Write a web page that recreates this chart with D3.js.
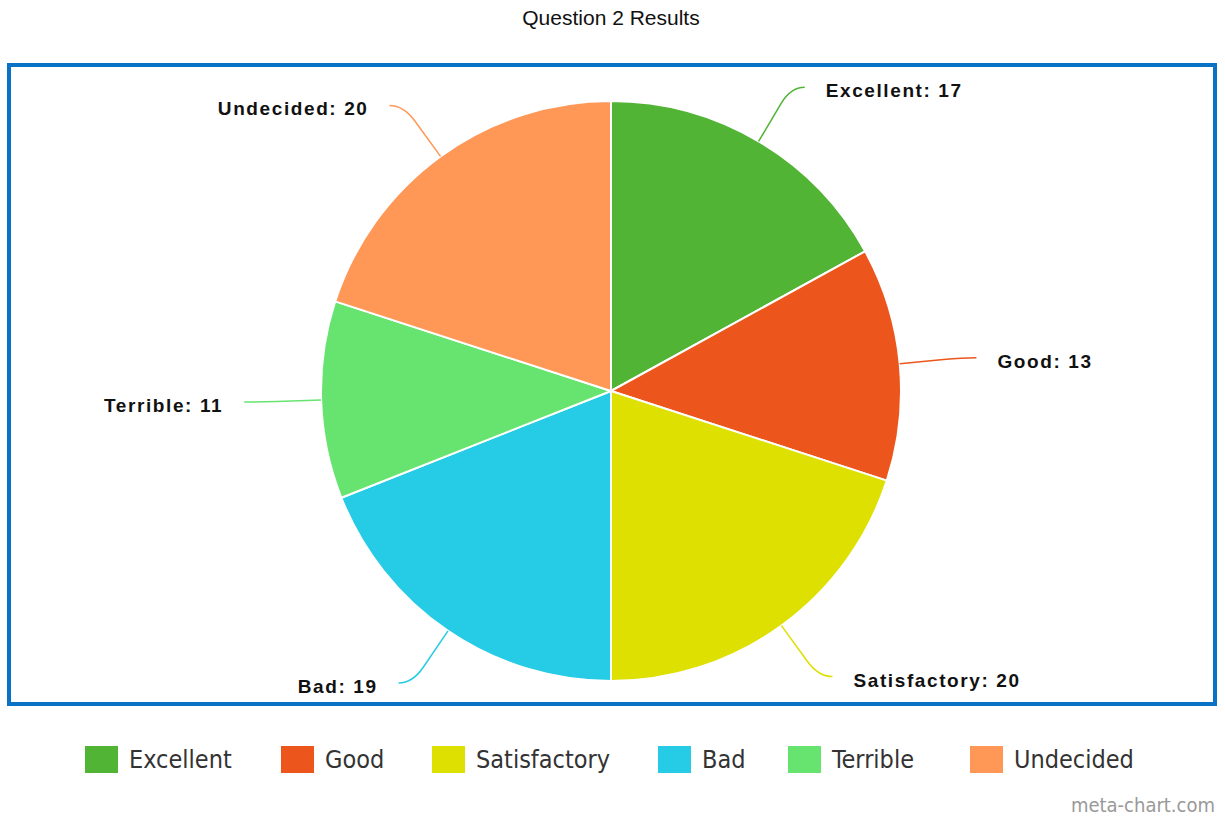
<!DOCTYPE html>
<html>
<head>
<meta charset="utf-8">
<script src="https://cdn.jsdelivr.net/npm/d3@7"></script>
<style>
  body { margin: 0; background: #fff; }
  #chart-container { width: 1225px; height: 816px; }
</style>
</head>
<body>
<div id="chart-container"></div>
<script>

// Chart data.
const categories = ["Excellent", "Good", "Satisfactory", "Bad", "Terrible", "Undecided"];
const values = [17, 13, 20, 19, 11, 20];
const palette = ["#52b435", "#ec561d", "#dde000", "#26cbe6", "#66e46f", "#ff9757"];
const chartTitle = "Question 2 Results";
const watermark = "meta-chart.com";

let fWidth = 1225, fHeight = 816, cx = 611, cy = 391, radius = 290;

let data = categories.map((c, i) => { return { name: c, value: values[i] }; });

// Append svg canvas.
let svg = d3.select("#chart-container").append("svg")
  .attr("width", fWidth)
  .attr("height", fHeight);

// Title.
svg.append("text")
  .attr("x", cx)
  .attr("y", 25)
  .attr("text-anchor", "middle")
  .style("font-family", "'Liberation Sans', Arial, sans-serif")
  .style("font-size", "21px")
  .style("fill", "#111")
  .text(chartTitle);

// Frame.
svg.append("rect")
  .attr("x", 9)
  .attr("y", 65)
  .attr("width", 1206)
  .attr("height", 639)
  .attr("fill", "none")
  .attr("stroke", "#0a72c4")
  .attr("stroke-width", 4);

let color = d3.scaleOrdinal()
  .domain(categories)
  .range(palette);

let pie = d3.pie()
  .value(d => { return d.value; })
  .sort(null);

let arcGen = d3.arc()
  .innerRadius(0)
  .outerRadius(radius);

let arcs = pie(data);

let chartCanvas = svg.append("g")
  .attr("transform", `translate(${ cx } ${ cy })`);

// Slices.
chartCanvas.selectAll(".slice")
  .data(arcs)
  .enter()
  .append("path")
    .classed("slice", true)
    .attr("d", arcGen)
    .attr("fill", d => { return color(d.data.name); })
    .attr("stroke", "#fff")
    .attr("stroke-width", 2)
    .attr("stroke-linejoin", "round");

// Polar helper.
function polar(a, r) {
  return [Math.sin(a) * r, -Math.cos(a) * r];
}

// Leader lines and labels.
arcs.forEach(d => {
  let mid = (d.startAngle + d.endAngle) / 2;
  let side = Math.sin(mid) >= 0 ? 1 : -1;
  let p0 = polar(mid, radius);
  let p1 = polar(mid, radius + 44);
  let c = polar(mid, radius + 63);
  let p2 = [c[0] + side * 14, c[1]];

  chartCanvas.append("path")
    .attr("d", `M${ p0[0] },${ p0[1] } L${ p1[0] },${ p1[1] } Q${ c[0] },${ c[1] } ${ p2[0] },${ p2[1] }`)
    .attr("fill", "none")
    .attr("stroke", color(d.data.name))
    .attr("stroke-width", 1.5);

  chartCanvas.append("text")
    .attr("x", p2[0] + side * 21)
    .attr("y", p2[1] + 10)
    .attr("text-anchor", side > 0 ? "start" : "end")
    .style("font-family", "'Liberation Sans', Arial, sans-serif")
    .style("font-size", "19px")
    .style("font-weight", "bold")
    .style("letter-spacing", "1.6px")
    .style("fill", "#111")
    .text(`${ d.data.name }: ${ d.data.value }`);
});

// Legend.
let legendX = [85, 281, 432, 658, 788, 970];
let legend = svg.append("g").attr("id", "legend");

let items = legend.selectAll(".legend-item")
  .data(data)
  .enter()
  .append("g")
    .classed("legend-item", true)
    .attr("transform", (d, i) => { return `translate(${ legendX[i] } 746)`; });

items.append("rect")
  .attr("width", 33)
  .attr("height", 27)
  .attr("fill", d => { return color(d.name); });

items.append("text")
  .attr("x", 44)
  .attr("y", 22)
  .style("font-family", "'DejaVu Sans Condensed', 'DejaVu Sans', sans-serif")
  .style("font-stretch", "condensed")
  .style("font-size", "25px")
  .style("fill", "#333")
  .text(d => { return d.name; });

// Watermark.
svg.append("text")
  .attr("x", 1215)
  .attr("y", 812)
  .attr("text-anchor", "end")
  .style("font-family", "'DejaVu Sans Condensed', 'DejaVu Sans', sans-serif")
  .style("font-stretch", "condensed")
  .style("font-size", "20px")
  .style("fill", "#999")
  .text(watermark);

</script>
</body>
</html>
